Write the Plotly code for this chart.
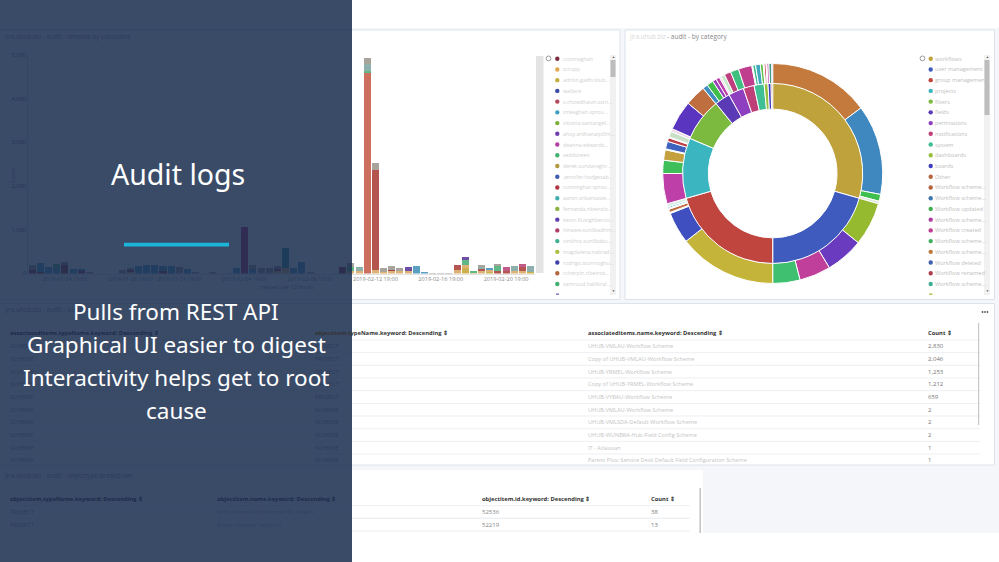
import plotly.graph_objects as go

W, H = 999, 562
FONT = "Open Sans"
TITLE_FONT = "Noto Sans"

# stacked bars, one value per 12 hour bucket
gold = [0,0,0,0,0,0,0,0,0,0, 0,0,0,0,0,0,0,0,0,0, 0,0,0,0,0,0,0,0,0,0,
        0,0,0,0,0,0,0,0,0,0, 0,0,0,0,0,0,0,0,0,0, 0,0,0,120,25,0,42,0,0,0, 0,30]
tan = [0,0,0,0,0,0,0,0,0,0, 0,0,40,0,0,0,0,0,0,0, 0,0,0,0,0,0,0,0,0,0,
       60,120,0,0,0,0,0,0,0,50, 60,0,70,40,70,50,50,0,0,0, 0,0,70,80,0,50,35,0,0,50, 60,0]
brick = [0,0,0,0,0,0,0,0,0,0, 0,0,0,0,0,0,0,0,0,0, 0,0,0,0,0,0,0,0,0,0,
         0,0,0,0,0,0,0,0,0,0, 0,0,2300,0,0,0,0,0,0,0, 0,0,120,0,0,50,0,50,60,0, 100,0]
salmon = [0,0,0,0,0,0,0,0,0,0, 0,0,0,0,0,0,0,0,0,0, 0,0,0,0,0,0,0,0,0,0,
          0,0,0,0,0,0,0,0,0,0, 0,4600,0,0,0,0,0,0,0,0, 0,0,0,0,0,0,0,0,0,0, 0,0]
maroon = [70,30,0,0,200,0,50,0,0,0, 0,0,30,0,0,0,60,0,0,0, 0,0,0,0,0,0,0,0,0,0,
          40,0,0,0,0,0,0,0,145,0, 0,0,0,0,15,0,0,0,0,0, 0,0,0,0,0,0,0,0,0,0, 0,0]
blue = [0,200,145,120,0,105,55,0,0,0, 0,0,0,175,205,190,120,175,0,105, 0,0,0,0,0,130,0,100,0,0,
        0,0,120,270,0,0,0,0,0,0, 0,0,0,0,0,0,0,175,38,0, 0,0,0,0,0,0,60,0,0,0, 0,0]
green = [0,0,0,100,0,0,0,0,0,0, 0,0,0,0,0,0,0,0,0,0, 0,0,0,0,0,0,0,0,0,0,
         0,0,0,0,0,0,0,0,0,90, 0,40,0,0,0,0,0,0,0,0, 0,0,0,110,43,0,0,120,0,0, 0,0]
teal = [0,0,0,0,0,0,0,0,0,0, 0,0,0,0,0,0,0,0,0,0, 0,0,0,0,0,0,0,0,0,0,
        0,455,0,0,0,0,0,0,0,0, 0,0,0,0,0,0,0,0,0,0, 0,0,0,0,0,0,0,0,0,0, 0,0]
sage = [0,0,0,0,0,0,0,0,0,0, 0,0,0,0,0,0,0,0,0,0, 0,0,0,0,0,0,0,0,0,0,
        0,0,0,0,0,0,0,0,0,0, 85,160,0,0,0,0,0,0,0,0, 0,0,0,0,0,50,0,0,0,117, 0,145]
stone = [135,0,0,0,60,0,0,15,0,0, 0,75,60,0,0,0,0,0,150,0, 15,0,15,0,8,0,0,90,135,115,
         65,0,0,0,20,0,0,0,0,110, 0,125,160,97,82,72,0,0,0,3, 3,3,0,0,0,40,0,58,0,0, 0,0]
plum = [0,0,0,0,0,0,0,0,0,0, 0,0,0,0,0,0,0,0,0,0, 0,0,0,0,0,0,1055,0,0,0,
        0,0,0,0,0,0,0,0,0,0, 0,0,0,0,0,0,0,0,0,0, 0,0,0,0,0,0,0,0,0,0, 0,0]
purple = [0,0,0,0,0,0,0,0,0,0, 0,0,0,0,0,0,0,0,0,0, 0,0,0,0,0,0,0,0,0,0,
          0,0,0,0,0,0,0,0,0,0, 0,0,0,0,0,0,102,0,0,0, 0,0,0,70,0,0,0,0,0,0, 0,0]
pink = [0,0,0,0,0,0,0,0,0,0, 0,0,0,0,0,0,0,0,0,0, 0,0,0,0,0,0,0,0,0,0,
        0,0,0,0,0,0,0,0,0,0, 0,0,0,0,0,0,0,0,0,0, 0,0,0,0,0,0,0,0,100,0, 68,0]

bar_series = [gold, tan, brick, salmon, maroon, blue, green, teal, sage, stone, plum, purple, pink]
bar_colors = ["#CDB04E", "#DDB274", "#B5554F", "#CC6F5E", "#A33F4F", "#5B9FC2",
              "#5FB885", "#3B9DA0", "#8DB0AC", "#A8A49C", "#C02F70", "#6F4FA6", "#C25A8A"]

bucket_days = ["01-22", "01-23", "01-23", "01-24", "01-24", "01-25", "01-25", "01-26", "01-26", "01-27",
               "01-27", "01-28", "01-28", "01-29", "01-29", "01-30", "01-30", "01-31", "01-31", "02-01",
               "02-01", "02-02", "02-02", "02-03", "02-03", "02-04", "02-04", "02-05", "02-05", "02-06",
               "02-06", "02-07", "02-07", "02-08", "02-08", "02-09", "02-09", "02-10", "02-10", "02-11",
               "02-11", "02-12", "02-12", "02-13", "02-13", "02-14", "02-14", "02-15", "02-15", "02-16",
               "02-16", "02-17", "02-17", "02-18", "02-18", "02-19", "02-19", "02-20", "02-20", "02-21",
               "02-21", "02-22"]
buckets = [f"2019-{d} {'19:00' if i % 2 == 0 else '07:00'}" for i, d in enumerate(bucket_days)]
x_ticks = ["2019-01-24 19:00", "2019-01-28 19:00", "2019-01-31 19:00", "2019-02-04 19:00",
           "2019-02-08 19:00", "2019-02-12 19:00", "2019-02-16 19:00", "2019-02-20 19:00"]
y_ticks = [0, 1000, 2000, 3000, 4000, 5000]

# donut rings
inner_values = [106, 74, 74, 39, 28, 10, 10, 7, 6.5, 2.5, 2, 1]
inner_colors = ["#BFA23B", "#3F5BBE", "#C1453F", "#3BB5BF", "#7BBA3F", "#5A3AB5",
                "#8E3FBF", "#BF3F78", "#3FBF93", "#9ABF3F", "#3F3FBF", "#B5643F"]
outer_values = [53.4, 47.6, 3.6, 1.4, 23, 20, 16.6, 14.4, 52, 16.7, 0.6, 1.7, 0.6, 0.8, 1.6,
                16, 7, 5.5, 0.5, 4, 2, 0.5, 3, 1.5, 15.7, 11.1, 2.7, 3.5, 2, 2, 1, 2, 3.5, 4.4,
                7.1, 0.5, 1.5, 2.5, 1.5, 0.5, 1, 0.5, 1, 1.5, 0.5]
outer_colors = ["#C47A3D", "#3F88BF", "#3FBF4E", "#DDE8D8", "#95BA30", "#6A3ABF", "#BF3F9A", "#3FBF70",
                "#C4B53A", "#3F4FBF", "#E8E0D8", "#BF6A3F", "#E6EEF0", "#3FAFBF", "#D8EEE4",
                "#BF3FA8", "#3FBF5A", "#C4A03F", "#EFEFEF", "#3F62BF", "#BF3F48", "#EFEFEF", "#C8E0C8", "#F0D8E8",
                "#5A35BF", "#BF6E3F", "#3F8EBF", "#3FBF4A", "#9A3FBF", "#BF3FA8", "#E8D8E8", "#C8E8C8", "#BF3F7E",
                "#3FBF80", "#BF3F8E", "#E8F0E8", "#3FBF90", "#3FA8BF", "#5ABF3F", "#EFEFEF", "#BF3F50",
                "#EFE0E8", "#BF3FB0", "#3F9A80", "#3F50BF"]

# legends
user_legend = ["cconnaghan", "scrupp", "admin.gadhcklub...", "wallace", "s.chowdhauri.sstri...",
               "tmeaghan.sprou...", "vittoria.santangel...", "ahoy.ardhanaipillm...", "deanna.edwards...",
               "seddoreen", "derek.sundaraghr...", "jennifer.hodgesab...", "cunninghar.sprou...",
               "aaron.srikantaste...", "fernanda.ribeirolo...", "kevin.fitzsighberoo...", "ninawe.sunilbadhm...",
               "vinithra.sunilbabu...", "magdalena.nabrad...", "rodrigo.sturmoghu...", "ccherpin.ribeiroo...",
               "samruud.hallibral..."]
user_colors = ["#7B2D3F", "#E0A850", "#C4AC3E", "#3B49A8", "#B5475A", "#3F9FBF", "#7AB03B", "#6E3FB0",
               "#B03FA0", "#3FB070", "#B09A3F", "#3F5FAF", "#B0363F", "#3FB0B0", "#8DB03F", "#5F3FB0",
               "#B03F6A", "#3FB090", "#B0BF3F", "#3F3FAF", "#B5673F", "#3FB070"]
category_legend = ["workflows", "user management", "group management", "projects", "filters", "fields",
                   "permissions", "notifications", "system", "dashboards", "boards", "Other",
                   "Workflow scheme...", "Workflow scheme...", "Workflow updated", "Workflow scheme...",
                   "Workflow created", "Workflow scheme...", "Workflow scheme...", "Workflow deleted",
                   "Workflow renamed", "Workflow scheme..."]
category_colors = inner_colors + ["#B5643F", "#3F78AF", "#3FAF4E", "#AF3FA0", "#BF3F8E", "#3FAF5E",
                                  "#BF7A3F", "#3F5FAF", "#AF3F4F", "#3FAF96"]

# tables
t1_headers = ["associateditems.typeName.keyword: Descending ⇕", "objectitem.typeName.keyword: Descending ⇕",
              "associateditems.name.keyword: Descending ⇕", "Count ⇕"]
t1_type = ["SCHEME"] * 10
t1_object = ["PROJECT"] * 5 + ["SCHEME"] * 5
t1_names = ["UHUB-VMLAU-Workflow Scheme", "Copy of UHUB-VMLAU-Workflow Scheme", "UHUB-YRMEL-Workflow Scheme",
            "Copy of UHUB-YRMEL-Workflow Scheme", "UHUB-VYBAU-Workflow Scheme", "UHUB-VMLAU-Workflow Scheme",
            "UHUB-VMLSDA-Default-Workflow Scheme", "UHUB-WUNBRA-Hub-Field Config Scheme", "IT - Atlassian",
            "Parent Plus: Service Desk Default Field Configuration Scheme"]
t1_counts = ["2,830", "2,046", "1,253", "1,212", "659", "2", "2", "2", "1", "1"]

t2_headers = ["objectitem.typeName.keyword: Descending ⇕", "objectitem.name.keyword: Descending ⇕",
              "objectitem.id.keyword: Descending ⇕", "Count ⇕"]
t2_type = ["PROJECT", "PROJECT"]
t2_names = ["MHH Parent Plus Example 3D Project", "Roster Website Variation"]
t2_ids = ["52536", "52219"]
t2_counts = ["38", "13"]

slide_title = "Audit logs"
slide_lines = ["Pulls from REST API", "Graphical UI easier to digest", "Interactivity helps get to root", "cause"]


def px(x):
    return x / W


def py(y):
    return 1 - y / H


shapes = []
annotations = []


def rect(x0, y0, x1, y1, fill, line=None, layer="below"):
    shapes.append(dict(type="rect", xref="paper", yref="paper", x0=px(x0), x1=px(x1), y0=py(y0), y1=py(y1),
                       fillcolor=fill, line=dict(color=line or fill, width=1 if line else 0), layer=layer))


def hline(x0, x1, y, color):
    shapes.append(dict(type="line", xref="paper", yref="paper", x0=px(x0), x1=px(x1), y0=py(y), y1=py(y),
                       line=dict(color=color, width=1), layer="below"))


def dot(x, y, r, color):
    shapes.append(dict(type="circle", xref="paper", yref="paper", x0=px(x - r), x1=px(x + r),
                       y0=py(y + r), y1=py(y - r), fillcolor=color, line=dict(width=0), layer="below"))


def label(x, y, text, size=6.5, color="#444", bold=False, anchor="left", font=FONT):
    if bold:
        text = f"<b>{text}</b>"
    annotations.append(dict(xref="paper", yref="paper", x=px(x), y=py(y), text=text, showarrow=False,
                            xanchor=anchor, yanchor="middle", font=dict(family=font, size=size, color=color),
                            borderpad=0, borderwidth=0))


UNDER_TEXT = "#2a3c5b"
UNDER_HEAD = "#1c2c4a"
PANEL_LINE = "#dde3ec"

# page and panels
rect(0, 28, W, 533, "#f4f6f9")
rect(-2, 30, 620, 299.5, "#ffffff", PANEL_LINE)
rect(625, 30, 994.5, 299.5, "#ffffff", PANEL_LINE)
rect(-2, 303.5, 994.5, 465, "#ffffff", PANEL_LINE)
rect(-2, 470, 703, 560, "#ffffff")
rect(0, 533, W, H, "#ffffff")

# panel titles
label(4, 37, "jira.uhub.biz - audit - timeline by username", 6.3, UNDER_TEXT)
label(629, 37, "jira.uhub.biz", 6.2, "#d8d8d8")
label(667, 37, "- audit - by category", 6.5, "#888888")
label(4, 309.5, "jira.uhub.biz - audit - summary", 6.3, UNDER_TEXT)
label(4, 475.5, "jira.uhub.biz - audit - objecttype breakdown", 6.3, UNDER_TEXT)
for dot_x in (982.5, 985, 987.5):
    dot(dot_x, 312, 0.9, "#555555")

# side strip next to the bars
rect(536, 56, 543.5, 273, "#e4e4e4")

# legends
for i, (name, color) in enumerate(zip(user_legend, user_colors)):
    dot(557.3, 58.7 + i * 10.73, 2.2, color)
    label(562.5, 58.7 + i * 10.73, name, 5.3, "#d0d0d0")
for i, (name, color) in enumerate(zip(category_legend, category_colors)):
    dot(930.7, 58.7 + i * 10.73, 2.2, color)
    label(934.5, 58.7 + i * 10.73, name, 5.6, "#c0c0c0")
rect(556, 293.5, 559, 294.8, "#6E63C0")
rect(929, 293.5, 932.5, 294.8, "#A8BF3F")

# legend gears and scrollbars
for gear_x in (548.5, 922.5):
    shapes.append(dict(type="circle", xref="paper", yref="paper", x0=px(gear_x - 2.4), x1=px(gear_x + 2.4),
                       y0=py(58.4 + 2.4), y1=py(58.4 - 2.4), line=dict(color="#9a9a9a", width=1),
                       fillcolor="#ffffff", layer="below"))
rect(610, 55, 616, 295, "#f1f1f1")
rect(610.5, 60, 615.5, 77, "#bdbdbd")
rect(984, 55, 990, 295, "#f1f1f1")
rect(984.5, 60, 989.5, 115, "#bdbdbd")
for sx in (613, 987):
    label(sx, 57, "▲", 3, "#444444", anchor="center")
    label(sx, 291, "▼", 3, "#444444", anchor="center")

# first table
t1_x = [10, 315, 588, 928]
t1_top = 333
for x, head in zip(t1_x, t1_headers):
    label(x, t1_top, head, 5.8, UNDER_HEAD if x < 315 else "#333333", bold=True)
for i in range(10):
    y = 346.3 + i * 12.67
    hline(10, 980, y - 6.3, "#edeff2")
    label(t1_x[0], y, t1_type[i], 6, UNDER_TEXT)
    label(t1_x[1], y, t1_object[i], 6, UNDER_TEXT)
    label(t1_x[2], y, t1_names[i], 5.6, "#c4c4c4")
    label(t1_x[3], y, t1_counts[i], 6, "#777777")
rect(978, 323, 979.2, 425, "#c8c8c8")

# second table
t2_x = [10, 217, 482, 651]
for x, head in zip(t2_x, t2_headers):
    label(x, 499.3, head, 5.8, UNDER_HEAD if x < 315 else "#333333", bold=True)
for i in range(2):
    y = 512 + i * 12.67
    hline(10, 690, y - 6.3, "#edeff2")
    hline(10, 690, y + 6.3, "#edeff2")
    label(t2_x[0], y, t2_type[i], 6, UNDER_TEXT)
    label(t2_x[1], y, t2_names[i], 5.6, "#2f4160")
    label(t2_x[2], y, t2_ids[i], 6, "#888888")
    label(t2_x[3], y, t2_counts[i], 6, "#777777")
rect(699.5, 488, 700.8, 533, "#b8b8b8")

# slide panel drawn over the dashboard
rect(0, 0, 352, H, "rgba(23,43,77,0.85)", layer="above")
rect(124, 242.7, 229, 246.5, "#1CB5DA", layer="above")
label(178, 174, slide_title, 28.5, "#ffffff", anchor="center", font=TITLE_FONT)
for y, line in zip([311, 344.5, 377.5, 410.5], slide_lines):
    label(176, y, line, 22.5, "#ffffff", anchor="center", font=TITLE_FONT)

fig = go.Figure()
for values, color in zip(bar_series, bar_colors):
    fig.add_trace(go.Bar(x=buckets, y=values, marker=dict(color=color, line=dict(width=0)), hoverinfo="skip"))


def ring(values, colors, radius, hole, line_width):
    cx, cy = 772.7, 173.5
    return go.Pie(values=values, sort=False, direction="clockwise", rotation=0, hole=hole,
                  marker=dict(colors=colors, line=dict(color="#ffffff", width=line_width)),
                  textinfo="none", hoverinfo="skip", showlegend=False,
                  domain=dict(x=[px(cx - radius), px(cx + radius)], y=[py(cy + radius), py(cy - radius)]))


fig.add_trace(ring(outer_values, outer_colors, 110, 0.815, 1))
fig.add_trace(ring(inner_values, inner_colors, 90, 0.715, 1))

fig.update_layout(
    width=W, height=H, margin=dict(l=0, r=0, t=0, b=0, pad=0, autoexpand=False),
    paper_bgcolor="#ffffff", plot_bgcolor="rgba(0,0,0,0)",
    barmode="stack", bargap=0.14, showlegend=False, shapes=shapes, annotations=annotations,
    font=dict(family=FONT),
    xaxis=dict(domain=[px(28.2), px(534.7)], type="category", categoryorder="array", categoryarray=buckets,
               range=[-0.5, 61.5], tickmode="array", tickvals=x_ticks, ticks="", showgrid=False,
               tickfont=dict(size=5.6, color="#8a8a8a"), showline=True, linecolor="#e2e2e2", zeroline=False,
               tickangle=0),
    yaxis=dict(domain=[py(273.5), py(55)], range=[0, 5000], tickmode="array", tickvals=y_ticks,
               tickformat=",d", ticks="", showgrid=False, tickfont=dict(size=5.6, color="#666666"),
               showline=True, linecolor="#d8d8d8", zeroline=False),
)
label(286, 287, "created per 12 hours", 5.6, UNDER_TEXT, anchor="center")
annotations.append(dict(xref="paper", yref="paper", x=px(7), y=py(165), text="Count", showarrow=False, textangle=-90,
                        font=dict(family=FONT, size=5.6, color=UNDER_TEXT)))
fig.update_layout(annotations=annotations)

# the page's default body margin would shift the fixed size figure
fig.write_html("out.html", config=dict(displayModeBar=False),
               post_script="document.body.style.margin='0';document.body.style.overflow='hidden';")
